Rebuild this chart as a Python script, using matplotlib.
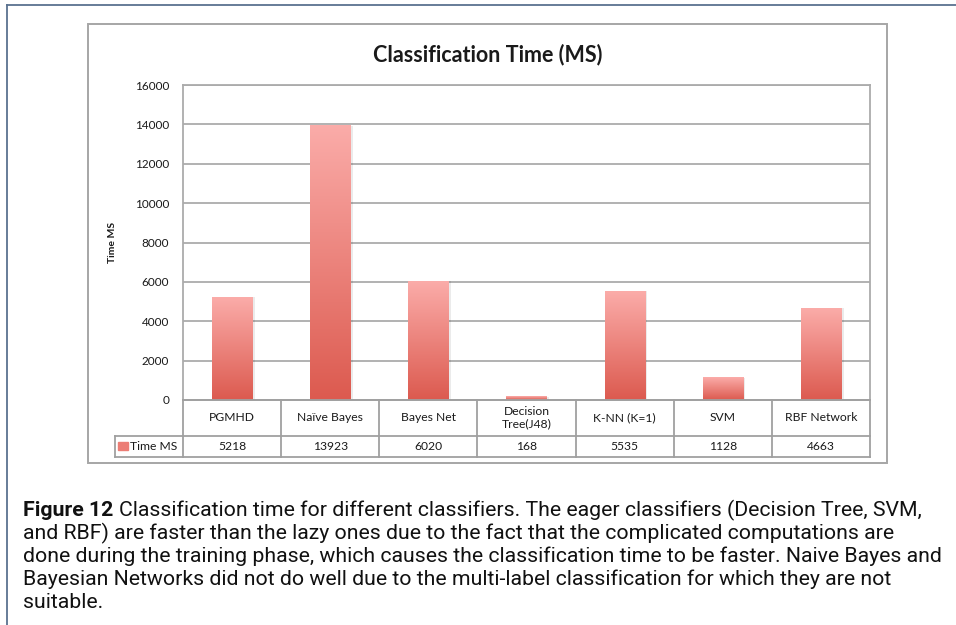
import numpy as np
import matplotlib.pyplot as plt
from matplotlib.colors import LinearSegmentedColormap
from matplotlib.lines import Line2D
from matplotlib.patches import Rectangle

# data
categories = ["PGMHD", "Naïve Bayes", "Bayes Net", "Decision\nTree(J48)",
              "K-NN (K=1)", "SVM", "RBF Network"]
times_ms = [5218, 13923, 6020, 168, 5535, 1128, 4663]
series_name = "Time MS"
y_ticks = [0, 2000, 4000, 6000, 8000, 10000, 12000, 14000, 16000]

caption_lines = [
    "Classification time for different classifiers. The eager classifiers (Decision Tree, SVM,",
    "and RBF) are faster than the lazy ones due to the fact that the complicated computations are",
    "done during the training phase, which causes the classification time to be faster. Naive Bayes and",
    "Bayesian Networks did not do well due to the multi-label classification for which they are not",
    "suitable.",
]

W, H = 956, 625
fig = plt.figure(figsize=(W / 100, H / 100), dpi=100)
plt.rcParams["font.family"] = ["Lato", "DejaVu Sans"]

def fx(px):
    return px / W

def fy(py):
    return 1 - py / H

grid_col = "#ababab"
text_col = "#1a1a1a"

# outer page frame
fig.add_artist(Line2D([fx(7), fx(7)], [fy(5), 0], color="#5b7290", lw=1.3))
fig.add_artist(Line2D([fx(7), 1], [fy(5), fy(5)], color="#5b7290", lw=1.3))

# chart box
fig.add_artist(Rectangle((fx(88), fy(463)), fx(887) - fx(88), fy(24) - fy(463),
                         fill=False, edgecolor="#a6a6a6", lw=1.4))

# plot area
left, right, top, bottom = 183, 870, 85, 400
ax = fig.add_axes([fx(left), fy(bottom), fx(right) - fx(left), fy(top) - fy(bottom)])
ax.set_xlim(0, len(categories))
ax.set_ylim(0, 16000)
ax.set_yticks(y_ticks)
ax.set_yticklabels([str(t) for t in y_ticks], fontsize=8.5, color=text_col)
ax.tick_params(axis="y", length=0, pad=10)
ax.set_xticks([])
ax.yaxis.grid(True, color=grid_col, lw=1.3)
ax.set_axisbelow(True)
for s in ax.spines.values():
    s.set_color(grid_col)
    s.set_linewidth(1.3)

ax.set_ylabel("Time MS", fontsize=7.5, fontweight="bold", color=text_col)
ax.yaxis.set_label_coords(-0.0955, 0.5)

fig.text(fx(488), fy(55), "Classification Time (MS)", ha="center", va="center",
         fontsize=15.5, fontweight="bold", color=text_col)

cmap = LinearSegmentedColormap.from_list("bar", ["#dc5a4f", "#fbaca9"])
x_pos = np.arange(len(categories)) + 0.5
bars = ax.bar(x_pos, times_ms, width=0.41, color="none", zorder=2)
grad = np.linspace(0, 1, 256).reshape(-1, 1)
for b in bars:
    x0, w, h = b.get_x(), b.get_width(), b.get_height()
    # soft shadow
    ax.add_patch(Rectangle((x0 + 0.025, 0), w, h, color="#000000", alpha=0.08,
                           lw=0, zorder=2))
    ax.imshow(grad, extent=(x0, x0 + w, 0, h), origin="lower", cmap=cmap,
              aspect="auto", zorder=3)
ax.set_xlim(0, len(categories))
ax.set_ylim(0, 16000)

# data table below the plot
tab = fig.add_axes([fx(left), fy(457), fx(right) - fx(left), fy(400) - fy(457)])
tab.set_xlim(0, len(categories))
tab.set_ylim(0, 57)
tab.axis("off")
row_split = 57 - 35.5
lkw = dict(color="#a0a0a0", lw=1.3, clip_on=False)
tab.plot([0, len(categories)], [57, 57], **lkw)
tab.plot([0, len(categories)], [row_split, row_split], **lkw)
leg_left = -68 / ((right - left) / len(categories))
tab.plot([leg_left, 0], [row_split, row_split], **lkw)
tab.plot([leg_left, len(categories)], [0, 0], **lkw)
tab.plot([leg_left, leg_left], [0, row_split], **lkw)
for i in range(len(categories) + 1):
    tab.plot([i, i], [0, 57], **lkw)

for i, (cat, val) in enumerate(zip(categories, times_ms)):
    tab.text(i + 0.5, (57 + row_split) / 2, cat, ha="center", va="center",
             fontsize=8.7, color=text_col, linespacing=1.1)
    tab.text(i + 0.5, row_split / 2, str(val), ha="center", va="center",
             fontsize=8.7, color=text_col)

tab.add_patch(Rectangle((leg_left + 0.03, row_split / 2 - 4), 0.1, 8,
                        color="#ec7d75", clip_on=False))
tab.text(leg_left + 0.15, row_split / 2, series_name, ha="left", va="center",
         fontsize=8.7, color=text_col)

# caption
cap_font = ["Roboto", "DejaVu Sans"]
line_y = [510, 533, 556, 579, 602]
fig.canvas.draw()
renderer = fig.canvas.get_renderer()

cap_size = 13.0
bold = fig.text(fx(23), fy(line_y[0]), "Figure 12", family=cap_font,
                fontweight="bold", fontsize=cap_size, va="center", color="#111111")
bb = bold.get_window_extent(renderer)
first = fig.text(fx(bb.x1 + 6), fy(line_y[0]), caption_lines[0], family=cap_font,
                 fontsize=cap_size, va="center", color="#111111")
rest = []
for txt, yy in zip(caption_lines[1:], line_y[1:]):
    rest.append(fig.text(fx(23), fy(yy), txt, family=cap_font, fontsize=cap_size,
                         va="center", color="#111111"))
# fit the longest line (third) to the reference width (ends near x=946)
lb = rest[1].get_window_extent(renderer)
cap_size *= (946 - 23) / (lb.x1 - lb.x0)
for t in [bold, first] + rest:
    t.set_fontsize(cap_size)
bb = bold.get_window_extent(renderer)
first.set_x(fx(bb.x1 + 6))

plt.savefig("out.png", dpi=100)
